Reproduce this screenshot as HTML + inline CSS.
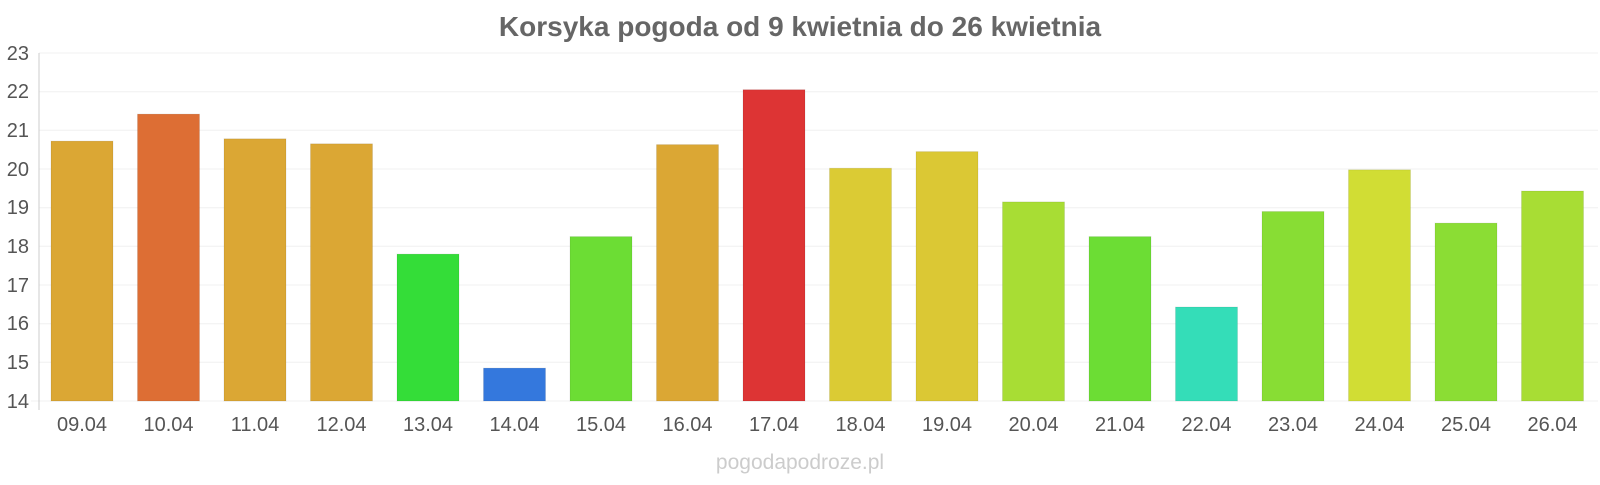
<!DOCTYPE html><html><head><meta charset="utf-8"><style>body{margin:0;background:#fff}</style></head><body>
<svg width="1600" height="480" xmlns="http://www.w3.org/2000/svg" font-family="Liberation Sans, sans-serif">
<text x="800" y="36" text-anchor="middle" font-size="28" font-weight="bold" fill="#666">Korsyka pogoda od 9 kwietnia do 26 kwietnia</text>
<g stroke="#f0f0f0" stroke-width="1">
<line x1="39" x2="1598" y1="53" y2="53"/><line x1="39" x2="1598" y1="91.7" y2="91.7"/><line x1="39" x2="1598" y1="130.3" y2="130.3"/><line x1="39" x2="1598" y1="169" y2="169"/><line x1="39" x2="1598" y1="207.7" y2="207.7"/><line x1="39" x2="1598" y1="246.3" y2="246.3"/><line x1="39" x2="1598" y1="285" y2="285"/><line x1="39" x2="1598" y1="323.7" y2="323.7"/><line x1="39" x2="1598" y1="362.3" y2="362.3"/><line x1="31" x2="1598" y1="401" y2="401"/>
</g>
<line x1="39" x2="39" y1="53" y2="410" stroke="#ccc"/>
<g font-size="20" fill="#555" text-anchor="end">
<text x="29" y="60">23</text><text x="29" y="98">22</text><text x="29" y="137">21</text><text x="29" y="176">20</text><text x="29" y="214">19</text><text x="29" y="253">18</text><text x="29" y="292">17</text><text x="29" y="330">16</text><text x="29" y="369">15</text><text x="29" y="408">14</text>
</g>
<g stroke="rgba(0,0,0,0.08)">
<rect x="51" y="141.1" width="62" height="259.9" fill="#dba734"/>
<rect x="137.5" y="114.1" width="62" height="286.9" fill="#dd6e34"/>
<rect x="224" y="138.8" width="62" height="262.2" fill="#dba734"/>
<rect x="310.5" y="143.8" width="62" height="257.2" fill="#dba734"/>
<rect x="397" y="254.1" width="62" height="146.9" fill="#34dd38"/>
<rect x="483.5" y="368.1" width="62" height="32.9" fill="#3478dd"/>
<rect x="570" y="236.6" width="62" height="164.4" fill="#6cdd34"/>
<rect x="656.5" y="144.6" width="62" height="256.4" fill="#dba734"/>
<rect x="743" y="89.7" width="62" height="311.3" fill="#dd3434"/>
<rect x="829.5" y="168.2" width="62" height="232.8" fill="#dbcb34"/>
<rect x="916" y="151.6" width="62" height="249.4" fill="#dbc834"/>
<rect x="1002.5" y="201.9" width="62" height="199.1" fill="#a8dd34"/>
<rect x="1089" y="236.6" width="62" height="164.4" fill="#6cdd34"/>
<rect x="1175.5" y="307" width="62" height="94" fill="#34ddb8"/>
<rect x="1262" y="211.5" width="62" height="189.5" fill="#88dd34"/>
<rect x="1348.5" y="169.8" width="62" height="231.2" fill="#d1dd34"/>
<rect x="1435" y="223.1" width="62" height="177.9" fill="#8bdd34"/>
<rect x="1521.5" y="191" width="62" height="210" fill="#a8dd34"/>
</g>
<g font-size="20" fill="#555" text-anchor="middle">
<text x="82" y="431">09.04</text><text x="168.5" y="431">10.04</text><text x="255" y="431">11.04</text><text x="341.5" y="431">12.04</text><text x="428" y="431">13.04</text><text x="514.5" y="431">14.04</text><text x="601" y="431">15.04</text><text x="687.5" y="431">16.04</text><text x="774" y="431">17.04</text><text x="860.5" y="431">18.04</text><text x="947" y="431">19.04</text><text x="1033.5" y="431">20.04</text><text x="1120" y="431">21.04</text><text x="1206.5" y="431">22.04</text><text x="1293" y="431">23.04</text><text x="1379.5" y="431">24.04</text><text x="1466" y="431">25.04</text><text x="1552.5" y="431">26.04</text>
</g>
<text x="800" y="469" text-anchor="middle" font-size="21" fill="#ccc">pogodapodroze.pl</text>
</svg></body></html>
